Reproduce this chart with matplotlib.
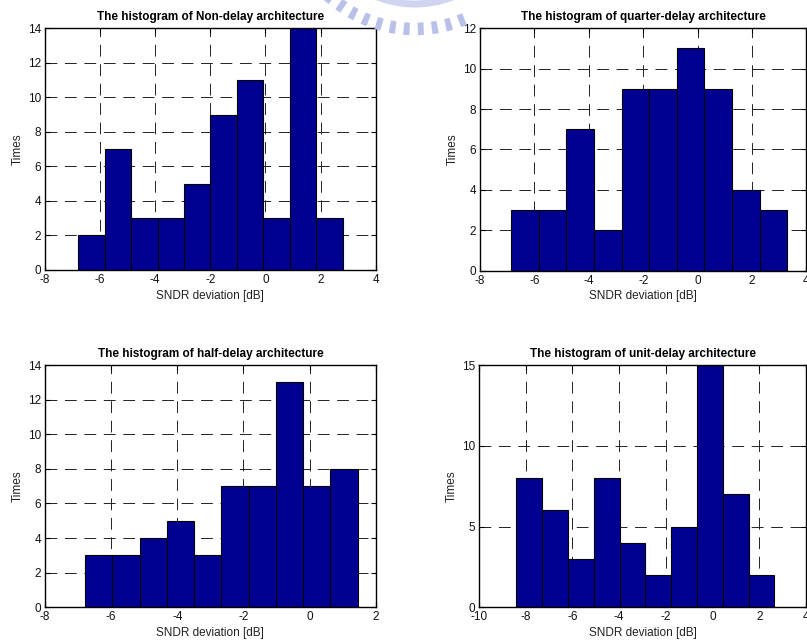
import numpy as np
import matplotlib
matplotlib.use("Agg")
import matplotlib.pyplot as plt
from matplotlib.patches import Arc

plt.rcParams['font.family'] = ['Liberation Sans', 'DejaVu Sans']
plt.rcParams['lines.scale_dashes'] = False
plt.rcParams['axes.unicode_minus'] = False

# Histogram counts (10 bins each) and the data range spanned by the bins
titles = [
    "The histogram of Non-delay architecture",
    "The histogram of quarter-delay architecture",
    "The histogram of half-delay architecture",
    "The histogram of unit-delay architecture",
]
counts_non = [2, 7, 3, 3, 5, 9, 11, 3, 14, 3]
counts_quarter = [3, 3, 7, 2, 9, 9, 11, 9, 4, 3]
counts_half = [3, 3, 4, 5, 3, 7, 7, 13, 7, 8]
counts_unit = [8, 6, 3, 8, 4, 2, 5, 15, 7, 2]

range_non = (-6.79, 2.80)
range_quarter = (-6.86, 3.30)
range_half = (-6.79, 1.455)
range_unit = (-8.40, 2.636)

xlims = [(-8, 4), (-8, 4), (-8, 2), (-10, 4)]
ylims = [(0, 14), (0, 12), (0, 14), (0, 15)]
xticks = [
    [-8, -6, -4, -2, 0, 2, 4],
    [-8, -6, -4, -2, 0, 2, 4],
    [-8, -6, -4, -2, 0, 2],
    [-10, -8, -6, -4, -2, 0, 2, 4],
]
yticks = [
    [0, 2, 4, 6, 8, 10, 12, 14],
    [0, 2, 4, 6, 8, 10, 12],
    [0, 2, 4, 6, 8, 10, 12, 14],
    [0, 5, 10, 15],
]
xlabel = "SNDR deviation [dB]"
ylabel = "Times"

W, H = 807, 640
fig = plt.figure(figsize=(W / 100, H / 100), dpi=100)

# Axes boxes in pixels: left, top, right, bottom
boxes = [
    (45, 28.3, 375.7, 270),
    (480, 28.3, 806.4, 270.5),
    (45, 365, 375.7, 607.3),
    (479, 365, 806.2, 607.3),
]

# Faint toothed-ring logo behind the plots (centre given in pixels from top-left)
cx, cy = 415 / W, 1 + 100 / H
fig.patches.append(Arc((cx, cy), 2 * 104 / W, 2 * 104 / H, theta1=228, theta2=308,
                       transform=fig.transFigure, color='#cfd5f1', lw=5, zorder=0))
fig.patches.append(Arc((cx, cy), 2 * 129 / W, 2 * 129 / H, theta1=228, theta2=291,
                       transform=fig.transFigure, color='#b9c1e9', lw=9,
                       zorder=0, linestyle=(0, (4.3, 5.8))))

bar_color = '#000090'
all_counts = [counts_non, counts_quarter, counts_half, counts_unit]
all_ranges = [range_non, range_quarter, range_half, range_unit]

for i in range(4):
    l, t, r, b = boxes[i]
    ax = fig.add_axes([l / W, 1 - b / H, (r - l) / W, (b - t) / H])
    counts = all_counts[i]
    edges = np.linspace(all_ranges[i][0], all_ranges[i][1], len(counts) + 1)
    ax.bar(edges[:-1], counts, width=np.diff(edges), align='edge',
           color=bar_color, edgecolor='black', linewidth=0.8, zorder=2)
    ax.set_xlim(*xlims[i])
    ax.set_ylim(*ylims[i])
    ax.set_xticks(xticks[i])
    ax.set_yticks(yticks[i])
    ax.grid(True, color='#222222', linewidth=0.7, linestyle=(0, (8.5, 5.5)), zorder=1)
    ax.set_axisbelow(True)
    ax.tick_params(direction='in', length=3.5, width=0.8, labelsize=8.5,
                   top=True, right=True, colors='black', labelcolor='#111111')
    ax.tick_params(axis='x', pad=3)
    ax.tick_params(axis='y', pad=3)
    for s in ax.spines.values():
        s.set_linewidth(1.0)
        s.set_zorder(3)
    ax.set_title(titles[i], fontsize=8.5, fontweight='bold', pad=6)
    ax.set_xlabel(xlabel, fontsize=8.5, labelpad=2.5, color='#222222')
    ax.set_ylabel(ylabel, fontsize=8.5, labelpad=2.5, color='#222222')

fig.savefig("out.png", dpi=100)
